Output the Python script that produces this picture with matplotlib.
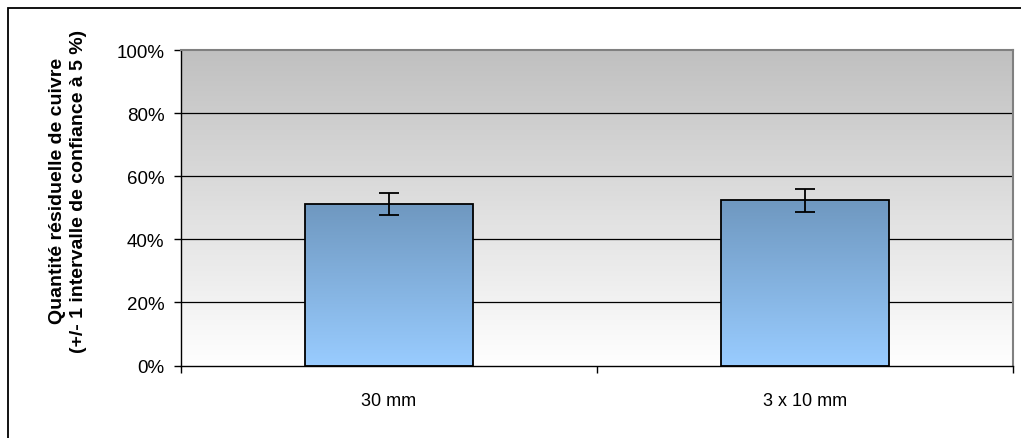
import numpy as np
import matplotlib
matplotlib.use("Agg")
import matplotlib.pyplot as plt
from matplotlib.colors import LinearSegmentedColormap
from matplotlib.patches import Rectangle

plt.rcParams["font.family"] = ["Liberation Sans", "DejaVu Sans"]

# Données
categories = ["30 mm", "3 x 10 mm"]
valeurs = [51.3, 52.4]
erreurs = [3.5, 3.6]
yticks = [0, 20, 40, 60, 80, 100]

fig = plt.figure(figsize=(10.21, 4.39), dpi=100)
ax = fig.add_axes([0.1773, 0.1651, 0.8144, 0.7187])

x = np.arange(len(categories))
ax.set_xlim(-0.5, 1.5)
ax.set_ylim(0, 100)

# Fond en dégradé (gris en haut, blanc en bas)
fond = LinearSegmentedColormap.from_list("fond", ["#ffffff", "#c0c0c0"])
grad = np.linspace(0, 1, 256).reshape(-1, 1)
ax.imshow(grad, cmap=fond, origin="lower", aspect="auto",
          extent=(-0.5, 1.5, 0, 100), zorder=0)

# Quadrillage
for yv in yticks[1:-1]:
    ax.axhline(yv, color="black", lw=0.9, zorder=1)

# Barres avec dégradé bleu
barres = ax.bar(x, valeurs, width=0.404, facecolor="none",
                edgecolor="black", linewidth=1.3, zorder=3)
bleu = LinearSegmentedColormap.from_list("bleu", ["#99ccff", "#6f98c0"])
for b in barres:
    x0, h, w = b.get_x(), b.get_height(), b.get_width()
    im = ax.imshow(grad, cmap=bleu, origin="lower", aspect="auto",
                   extent=(x0, x0 + w, 0, h), zorder=2)
    im.set_clip_path(b)

ax.errorbar(x, valeurs, yerr=erreurs, fmt="none", ecolor="black",
            elinewidth=1.3, capsize=7, capthick=1.3, zorder=4)

# Axes
ax.set_yticks(yticks)
ax.set_yticklabels([f"{v}%" for v in yticks], fontsize=13.5)
ax.set_xticks([-0.5, 0.5, 1.5])
ax.set_xticklabels([])
ax.set_xticks(x, minor=True)
ax.set_xticklabels(categories, minor=True, fontsize=13)
ax.tick_params(axis="x", which="minor", length=0, pad=19)
ax.tick_params(axis="x", which="major", length=5, direction="out", width=1)
ax.tick_params(axis="y", length=5, direction="out", width=1, pad=7)

ax.spines["left"].set_color("black")
ax.spines["bottom"].set_color("black")
ax.spines["left"].set_linewidth(1)
ax.spines["bottom"].set_linewidth(1)
ax.spines["top"].set_color("#808080")
ax.spines["right"].set_color("#808080")
ax.spines["top"].set_linewidth(1.5)
ax.spines["right"].set_linewidth(1.5)

fig.text(0.0666, 0.565,
         "Quantité résiduelle de cuivre\n(+/- 1 intervalle de confiance à 5 %)",
         rotation=90, ha="center", va="center", fontsize=14,
         fontweight="bold", linespacing=1.25)

# Cadre du graphique
fig.patches.append(Rectangle((8 / 1021, -0.1), 1.2, 1 - 9 / 439 + 0.1,
                             transform=fig.transFigure, fill=False,
                             edgecolor="black", linewidth=1.3))

fig.savefig("out.png", dpi=100)
